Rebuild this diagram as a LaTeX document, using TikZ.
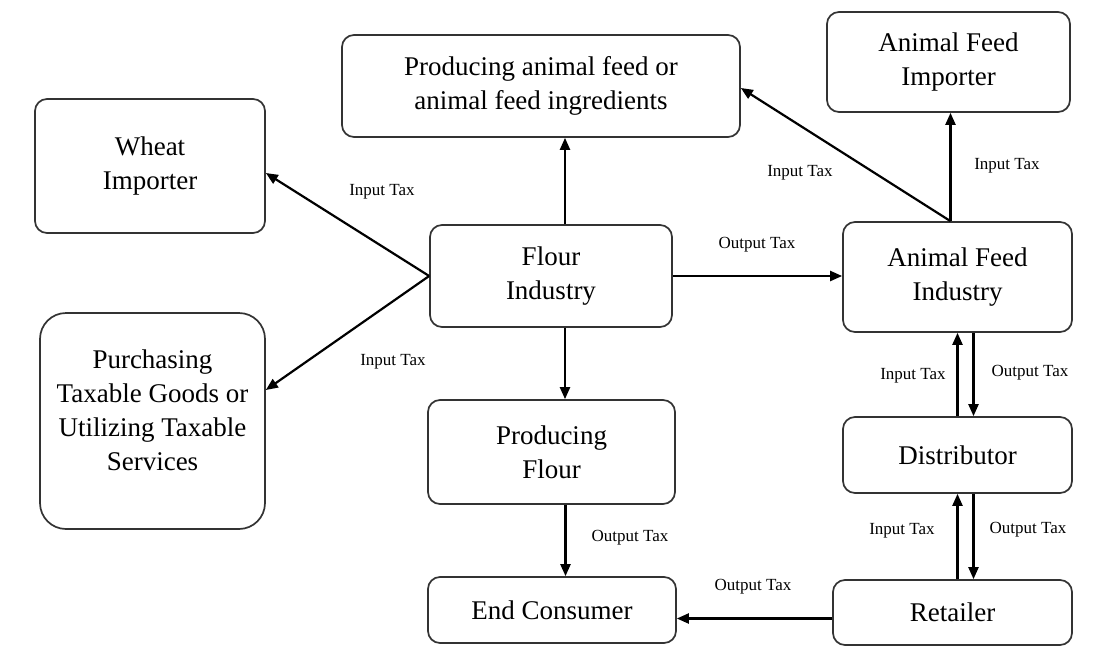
\documentclass[tikz,border=0pt]{standalone}
\usepackage{fontspec}
\setmainfont{Liberation Serif}
\usetikzlibrary{arrows.meta,positioning,calc}

\begin{document}
\begin{tikzpicture}[x=1pt, y=-1pt, ->, >={Triangle[length=12pt,width=10pt]}, line width=2.2pt]
\tikzstyle{box}=[draw=black!80, line width=1.7pt, rounded corners=12pt, align=center, inner sep=0pt, font=\fontsize{27}{34}\selectfont]
\tikzstyle{tax}=[font=\fontsize{17}{20}\selectfont]

\useasboundingbox (0,0) rectangle (1101,648);

% boxes
\node[box, minimum width=398pt, minimum height=102pt] (feed) at (541,86) {Producing animal feed or\\animal feed ingredients};
\node[box, minimum width=243pt, minimum height=100pt] (afimp) at (948.5,62) {Animal Feed\\Importer};
\node[box, minimum width=230pt, minimum height=134pt] (wheat) at (150,166) {Wheat\\Importer};
\node[box, minimum width=242pt, minimum height=102pt] (flour) at (551,276) {Flour\\Industry};
\node[box, minimum width=229pt, minimum height=110pt] (afind) at (957.5,277) {Animal Feed\\Industry};
\node[box, rounded corners=26pt, minimum width=225pt, minimum height=216pt] (purch) at (152.5,421) {Purchasing\\Taxable Goods or\\Utilizing Taxable\\Services\\[-12pt]};
\node[box, minimum width=247pt, minimum height=104pt] (pflour) at (551.5,452) {Producing\\Flour};
\node[box, minimum width=229pt, minimum height=76pt] (dist) at (957.5,455) {Distributor};
\node[box, minimum width=248pt, minimum height=66pt] (endc) at (552,610) {End Consumer};
\node[box, minimum width=239pt, minimum height=65pt] (retail) at (952.5,612.5) {Retailer};

% flour industry
\draw (flour.west) -- ([yshift=-7pt]wheat.east);
\draw (flour.west) -- ([yshift=31pt]purch.east);
\draw ([xshift=14pt]flour.north) -- ([xshift=14pt]flour.north |- feed.south);
\draw (flour.east) -- (flour.east -| afind.west);
\draw ([xshift=14pt]flour.south) -- ([xshift=14pt]flour.south |- pflour.north);
\draw ([xshift=14pt]pflour.south) -- ([xshift=14pt]pflour.south |- endc.north);

% animal feed industry
\coordinate (split) at ([xshift=-7pt]afind.north);
\draw (split) -- (split |- afimp.south);
\draw (split) -- ([yshift=-2pt]feed.east);

% chain
\draw (dist.north) -- (dist.north |- afind.south);
\draw ([xshift=16pt]afind.south) -- ([xshift=16pt]dist.north);
\draw (dist.south |- retail.north) -- (dist.south);
\draw ([xshift=16pt]dist.south) -- ([xshift=16pt]dist.south |- retail.north);
\draw ([yshift=-6pt]retail.west) -- ([yshift=-6pt]retail.west -| endc.east);

% tax labels
\node[tax] (t1) at (382,192) {Input Tax};
\node[tax] (t2) at (393,362) {Input Tax};
\node[tax] (t3) at (757,245) {Output Tax};
\node[tax] (t4) at (800,173) {Input Tax};
\node[tax] (t5) at (1007,166) {Input Tax};
\node[tax] (t6) at (630,538) {Output Tax};
\node[tax] (t7) at (753,587) {Output Tax};
\node[tax] (t8) at (913,376) {Input Tax};
\node[tax] (t9) at (1030,373) {Output Tax};
\node[tax] (t10) at (902,531) {Input Tax};
\node[tax] (t11) at (1028,530) {Output Tax};
\end{tikzpicture}
\end{document}
